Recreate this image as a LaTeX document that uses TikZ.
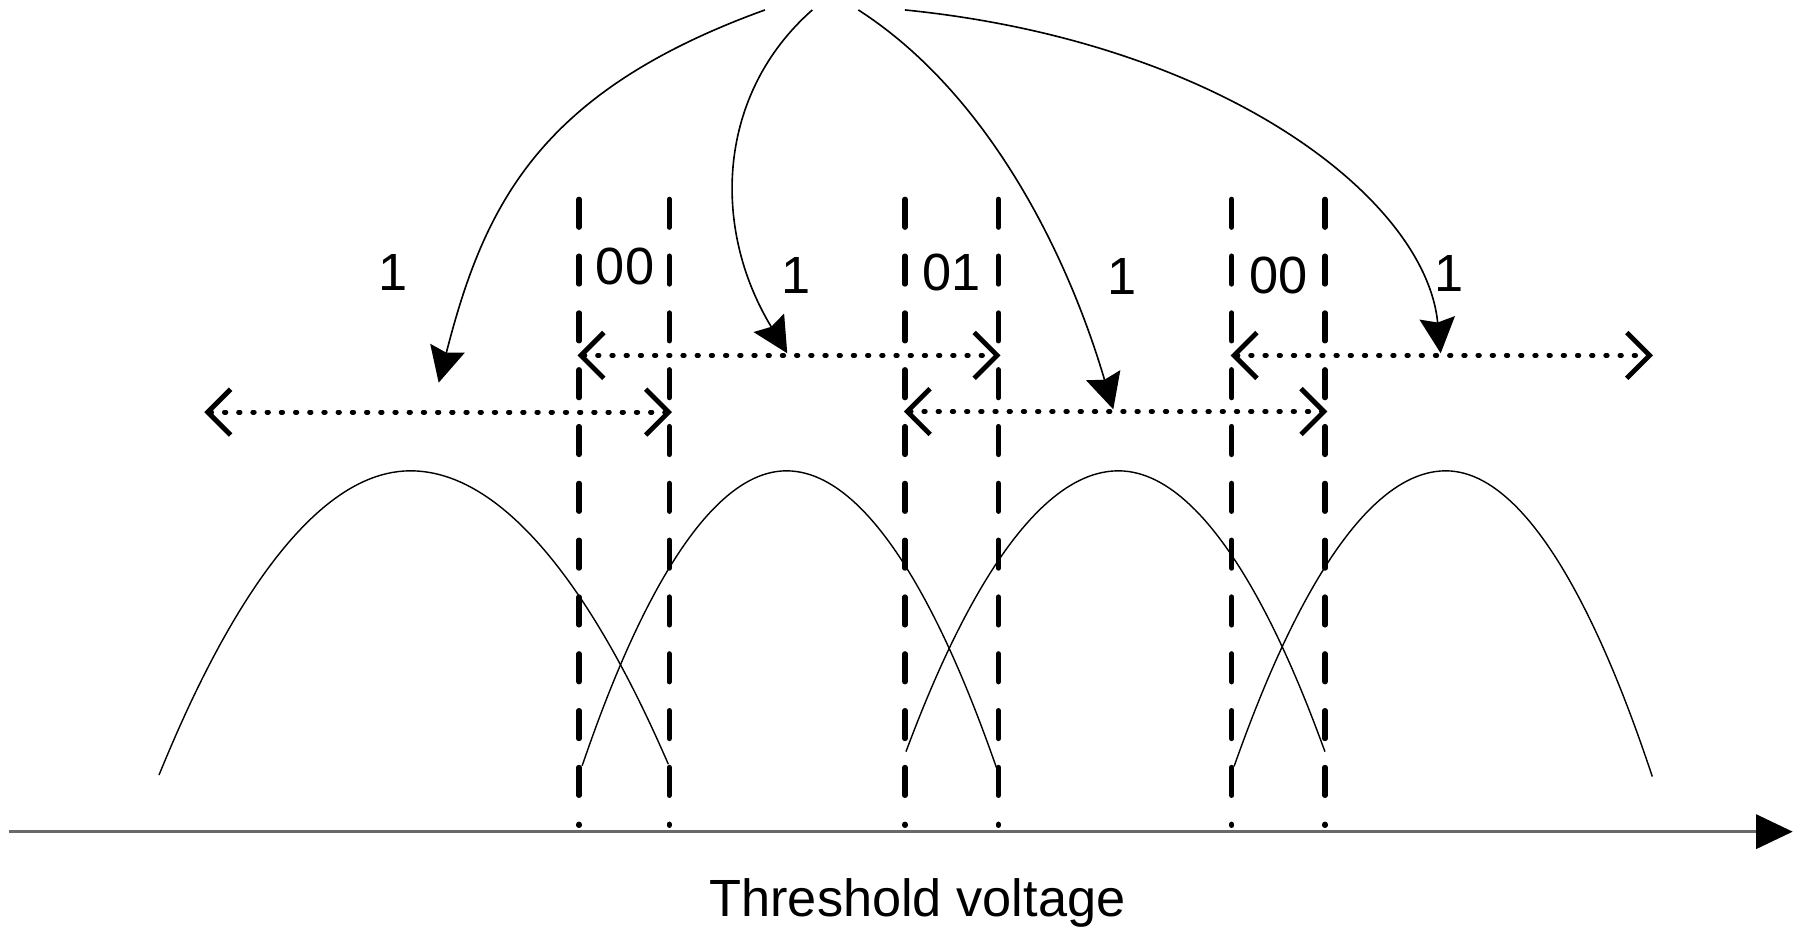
\documentclass[tikz,border=0pt]{standalone}
\usepackage{fontspec}
\setmainfont{Liberation Sans}
\usetikzlibrary{arrows.meta}
\definecolor{axisgray}{RGB}{105,105,105}
\begin{document}
\begin{tikzpicture}[x=0.01cm,y=-0.01cm,
  bell/.style={line width=0.35pt},
  vdash/.style={line width=1.3pt, line cap=round, dash pattern=on 0.244cm off 0.252cm},
  span/.style={line width=1.2pt, line cap=round, dash pattern=on 0.013cm off 0.111cm,
    {Straight Barb[length=0.2cm,width=0.4cm]}-{Straight Barb[length=0.2cm,width=0.4cm]}},
  bendarrow/.style={line width=0.4pt, -{Stealth[length=0.31cm,width=0.31cm,inset=0.04cm]}},
  axisline/.style={line width=0.6pt, draw=axisgray, -{Triangle[length=0.32cm,width=0.3cm,color=black]}},
  lbl/.style={font=\fontsize{13pt}{15pt}\selectfont, inner sep=0pt, anchor=base}
]
\useasboundingbox (0,0) rectangle (1568,810);

% vertical dashed thresholds
\foreach \x [count=\i] in {505.8,584.6,790.5,872.1,1075.9,1157.4} {
  \coordinate (t\i) at (\x,174.1);
  \coordinate (b\i) at (\x,721);
  \draw[vdash] (t\i) -- (b\i);
}

% distributions
\draw[bell] (138.9,677) parabola bend (358.5,411.3) (583.8,667.5);
\draw[bell] (508.5,669) parabola bend (687,411.3) (870.6,671);
\draw[bell] (791.4,656.6) parabola bend (977,411.3) (1157.4,656.6);
\draw[bell] (1078,669.5) parabola bend (1263,411.3) (1443.4,678.4);

% axis
\coordinate (ax0) at (7.5,726.5);
\coordinate (ax1) at (1566,726.5);
\draw[axisline] (ax0) -- (ax1);
\node[lbl, anchor=base west] (xlabel) at (619,800.7) {Threshold voltage};

% double arrows (read ranges)
\coordinate (la1) at (178.5,360);  \coordinate (lb1) at (587,360);
\coordinate (ua1) at (504.5,310.5); \coordinate (ub1) at (874,310.5);
\coordinate (la2) at (789.5,359.5); \coordinate (lb2) at (1159.5,359.5);
\coordinate (ua2) at (1075,310.5); \coordinate (ub2) at (1444,310.5);
\draw[span] (la1) -- (lb1);
\draw[span] (ua1) -- (ub1);
\draw[span] (la2) -- (lb2);
\draw[span] (ua2) -- (ub2);

% curved arrows from top
\coordinate (s1) at (668.2,8.7);  \coordinate (e1) at (383.2,334.3);
\coordinate (s2) at (709.6,8.7);  \coordinate (e2) at (687.7,308.6);
\coordinate (s3) at (749.8,8.7);  \coordinate (e3) at (972.5,357.6);
\coordinate (s4) at (790.5,8.7);  \coordinate (e4) at (1258.5,308.6);
\draw[bendarrow] (s1) .. controls (470.8,80.1) and (422.9,179.3) .. (e1);
\draw[bendarrow] (s2) .. controls (627.1,81.3) and (620.4,197.5) .. (e2);
\draw[bendarrow] (s3) .. controls (859,78.9) and (929.9,213.7) .. (e3);
\draw[bendarrow] (s4) .. controls (1069.1,36.7) and (1245.3,174.3) .. (e4);

% labels
\node[lbl] (l1a) at (343.7,253.4) {1};
\node[lbl] (l00a) at (546,248.6) {00};
\node[lbl] (l1b) at (695.4,256.6) {1};
\node[lbl] (l01) at (831.6,253.7) {01};
\node[lbl] (l1c) at (980,257.4) {1};
\node[lbl] (l00b) at (1116.7,256.6) {00};
\node[lbl] (l1d) at (1265.8,254.4) {1};
\end{tikzpicture}
\end{document}
